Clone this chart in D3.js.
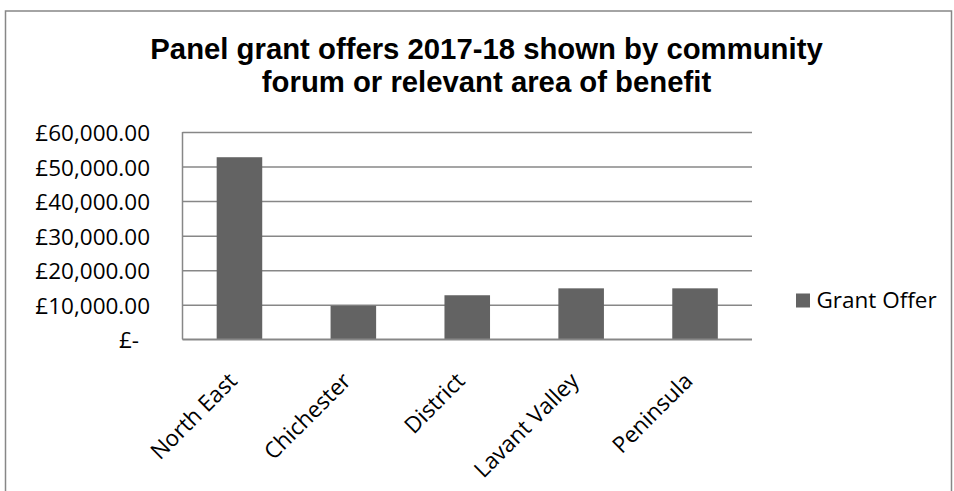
<!DOCTYPE html>
<html>
<head>
<meta charset="utf-8">
<script src="https://cdn.jsdelivr.net/npm/d3@7"></script>
<style>
  html, body { margin: 0; padding: 0; background: #ffffff; }
  svg { display: block; }
</style>
</head>
<body>
<svg id="chart" width="954" height="491"></svg>
<script>
// ---- data ----
const categories = ["North East", "Chichester", "District", "Lavant Valley", "Peninsula"];
const grantOffer = [52700, 9700, 12750, 14750, 14750];
const yTicks = [0, 10000, 20000, 30000, 40000, 50000, 60000];
const seriesName = "Grant Offer";
const titleLines = ["Panel grant offers 2017-18 shown by community", "forum or relevant area of benefit"];

// ---- layout ----
const W = 954, H = 491;
const plot = { left: 182.5, right: 752, top: 132, bottom: 339.3 };
const gridColor = "#878787";
const barColor = "#636363";
const labelFont = "'Open Sans', 'Noto Sans', sans-serif";

const svg = d3.select("#chart");

// outer chart border
svg.append("rect")
  .attr("x", 5.5).attr("y", 11)
  .attr("width", 946).attr("height", 500)
  .attr("fill", "#ffffff")
  .attr("stroke", gridColor).attr("stroke-width", 1.5);

// title
const title = svg.append("text")
  .attr("text-anchor", "middle")
  .attr("font-family", "'Liberation Sans', Arial, sans-serif")
  .attr("font-weight", "bold")
  .attr("font-size", 29.3)
  .attr("fill", "#000");
title.selectAll("tspan").data(titleLines).join("tspan")
  .attr("x", 486.5)
  .attr("y", (d, i) => 58.5 + i * 33.4)
  .text(d => d);

// scales
const x = d3.scaleBand()
  .domain(categories)
  .range([plot.left, plot.right])
  .paddingInner(0.6)
  .paddingOuter(0.3);

const y = d3.scaleLinear()
  .domain([0, d3.max(yTicks)])
  .range([plot.bottom, plot.top]);

const fmt = d3.format(",.2f");
const tickLabel = v => v === 0 ? "£-" : "£" + fmt(v);

// gridlines
const grid = svg.append("g")
  .attr("transform", `translate(${plot.left},0)`)
  .call(d3.axisLeft(y).tickValues(yTicks).tickSize(-(plot.right - plot.left)).tickFormat(""));
grid.select(".domain").remove();
grid.selectAll(".tick line").attr("stroke", gridColor).attr("stroke-width", 1.5);

// y axis labels
const yAxis = svg.append("g")
  .attr("transform", `translate(${plot.left},0)`)
  .call(d3.axisLeft(y).tickValues(yTicks).tickSize(0).tickPadding(32.5).tickFormat(tickLabel));
yAxis.select(".domain").remove();
yAxis.selectAll(".tick text")
  .attr("font-family", labelFont)
  .attr("font-size", 22.5)
  .attr("fill", "#000")
  .attr("dy", "0.38em")
  .attr("dx", d => d === 0 ? -11 : 0);

// vertical axis line
svg.append("line")
  .attr("x1", plot.left).attr("x2", plot.left)
  .attr("y1", y(d3.max(yTicks))).attr("y2", y(0))
  .attr("stroke", gridColor).attr("stroke-width", 1.5);

// bars
svg.append("g").selectAll("rect")
  .data(categories.map((c, i) => ({ c, v: grantOffer[i] })))
  .join("rect")
  .attr("x", d => x(d.c))
  .attr("width", x.bandwidth())
  .attr("y", d => y(d.v))
  .attr("height", d => y(0) - y(d.v))
  .attr("fill", barColor);

// x axis
const xAxis = svg.append("g")
  .attr("transform", `translate(0,${plot.bottom})`)
  .call(d3.axisBottom(x).tickSize(0));
xAxis.select(".domain").remove();
xAxis.selectAll(".tick text")
  .attr("font-family", labelFont)
  .attr("font-size", 22.5)
  .attr("fill", "#000")
  .attr("text-anchor", "end")
  .attr("x", 0).attr("y", 0).attr("dy", 0)
  .attr("transform", "translate(-1,43) rotate(-45)");

svg.append("line")
  .attr("x1", plot.left).attr("x2", plot.right)
  .attr("y1", y(0)).attr("y2", y(0))
  .attr("stroke", gridColor).attr("stroke-width", 1.5);

// legend
const legend = svg.append("g").attr("transform", "translate(796,293.5)");
legend.append("rect").attr("width", 14).attr("height", 14).attr("fill", barColor);
legend.append("text")
  .attr("x", 20.5).attr("y", 14.2)
  .attr("font-family", labelFont)
  .attr("font-size", 22.5)
  .attr("fill", "#000")
  .text(seriesName);
</script>
</body>
</html>
